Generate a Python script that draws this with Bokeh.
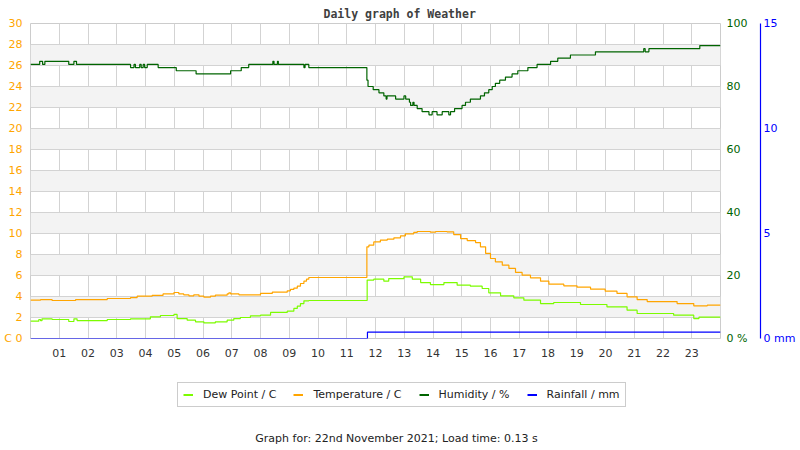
from bokeh.plotting import figure
from bokeh.layouts import column
from bokeh.models import (Range1d, LinearAxis, FixedTicker, Legend, LegendItem, Label)
from bokeh.embed import file_html
from bokeh.resources import INLINE

# ---------------- data ----------------
hour_ticks = list(range(1, 24))
hour_labels = ["01", "02", "03", "04", "05", "06", "07", "08", "09", "10", "11", "12",
               "13", "14", "15", "16", "17", "18", "19", "20", "21", "22", "23"]
temp_ticks = list(range(0, 31, 2))
hum_ticks = [0, 20, 40, 60, 80, 100]
rain_ticks = [0, 5, 10, 15]

hum_t = [0.0, 0.32, 0.42, 0.50, 1.33, 1.51, 1.60, 3.48, 3.60, 3.65, 3.80, 3.85, 3.92, 3.97,
         4.06, 4.44, 5.07, 5.76, 6.96, 7.33, 7.59, 8.43, 8.47, 8.59, 8.62, 9.51, 9.55, 9.68,
         11.70, 11.74, 11.92, 12.12, 12.29, 12.37, 12.40, 12.70, 12.99, 13.05, 13.18, 13.22,
         13.30, 13.34, 13.45, 13.62, 13.86, 13.97, 14.14, 14.32, 14.55, 14.61, 14.75, 15.01,
         15.13, 15.30, 15.65, 15.79, 15.94, 16.06, 16.17, 16.32, 16.52, 16.75, 16.95, 17.30,
         17.62, 18.09, 18.34, 18.78, 19.65, 21.33, 21.38, 21.51, 23.28, 24.0]
hum_v = [87, 88, 87, 88, 87, 88, 87, 86, 87, 86, 87, 86, 87, 86,
         87, 86, 85, 84, 85, 86, 87, 88, 87, 88, 87, 86, 87, 86,
         82, 80, 79, 78, 77, 76, 77, 76, 77, 76, 75, 74,
         75, 74, 73, 72, 71, 72, 71, 72, 71, 72, 73, 74,
         75, 76, 77, 78, 79, 80, 81, 82, 83, 84, 85, 86,
         87, 88, 89, 90, 91, 92, 91, 92, 93, 93]

temp_t = [0.0, 0.35, 0.75, 1.57, 2.67, 3.48, 3.71, 4.23, 4.61, 4.99, 5.16, 5.33, 5.51, 5.68,
          5.86, 6.03, 6.26, 6.43, 6.84, 6.90, 6.96, 7.25, 8.00, 8.41, 8.93, 9.04, 9.16, 9.28,
          9.39, 9.51, 9.60, 9.68, 11.70, 11.77, 11.94, 12.17, 12.41, 12.64, 12.87, 13.04,
          13.33, 13.45, 13.91, 14.09, 14.49, 14.72, 14.96, 15.19, 15.48, 15.65, 15.83, 16.00,
          16.17, 16.41, 16.64, 16.87, 17.10, 17.39, 17.74, 18.03, 18.55, 19.01, 19.48, 19.99,
          20.40, 20.75, 21.10, 21.45, 22.49, 23.07, 23.54, 24.0]
temp_v = [3.65, 3.71, 3.62, 3.71, 3.81, 3.90, 4.03, 4.10, 4.25, 4.38, 4.25, 4.16, 4.06, 4.16,
          4.03, 3.94, 4.03, 4.13, 4.25, 4.35, 4.25, 4.16, 4.29, 4.41, 4.54, 4.67, 4.79, 4.98,
          5.24, 5.46, 5.65, 5.81, 8.73, 8.89, 9.20, 9.37, 9.46, 9.59, 9.78, 9.97,
          10.10, 10.19, 10.13, 10.19, 10.16, 9.90, 9.52, 9.33, 9.14, 8.73, 8.10, 7.62,
          7.30, 6.98, 6.67, 6.29, 6.03, 5.78, 5.46, 5.17, 5.02, 4.89, 4.70, 4.51,
          4.29, 3.97, 3.71, 3.52, 3.33, 3.11, 3.17, 3.17]

dew_t = [0.0, 0.29, 0.35, 0.40, 0.75, 1.33, 1.51, 1.62, 2.67, 3.48, 4.17, 4.52, 4.99, 5.10,
         5.45, 5.74, 6.03, 6.43, 6.84, 7.07, 7.30, 7.65, 8.00, 8.35, 8.93, 9.16, 9.28, 9.39,
         9.51, 9.68, 11.71, 11.94, 12.29, 12.46, 12.99, 13.28, 13.57, 13.91, 14.38, 14.84,
         15.30, 15.71, 15.94, 16.35, 16.81, 17.16, 17.74, 18.20, 19.13, 20.05, 20.75, 21.10,
         22.37, 23.07, 23.25, 24.0]
dew_v = [1.65, 1.81, 1.70, 1.87, 1.81, 1.62, 1.87, 1.71, 1.81, 1.87, 2.06, 2.19, 2.29, 1.90,
         1.75, 1.59, 1.49, 1.59, 1.75, 1.90, 2.00, 2.16, 2.22, 2.48, 2.60, 2.86, 3.08, 3.33,
         3.59, 3.62, 5.56, 5.65, 5.46, 5.71, 5.87, 5.65, 5.33, 5.14, 5.33, 5.08,
         4.98, 4.76, 4.35, 4.06, 3.87, 3.65, 3.33, 3.43, 3.24, 3.02, 2.70, 2.38,
         2.22, 1.90, 2.03, 2.03]

rain_t = [0.0, 11.72, 24.0]
rain_v = [0.0, 0.3, 0.3]

series_names = ["Dew Point / C", "Temperature / C", "Humidity / %", "Rainfall / mm"]
footer_text = "Graph for: 22nd November 2021; Load time: 0.13 s"

C_DEW = "#7CFC00"
C_TEMP = "#FFA500"
C_HUM = "#006400"
C_RAIN = "#0000FF"
FONT = "DejaVu Sans"

# ---------------- main figure ----------------
p = figure(width=800, height=370, output_backend="svg", toolbar_location=None,
           x_range=Range1d(0, 24), y_range=Range1d(0, 30),
           min_border_left=30, min_border_right=80, min_border_top=23, min_border_bottom=32,
           background_fill_color="white", border_fill_color="white")
p.extra_y_ranges = {"hum": Range1d(0, 100), "rain": Range1d(0, 15)}
p.outline_line_color = "#cccccc"

p.title.text = "Daily graph of Weather"
p.title.align = "left"
p.title.offset = 293
p.title.standoff = 6
p.title.text_font = "DejaVu Sans Mono"
p.title.text_font_style = "bold"
p.title.text_font_size = "11.5px"
p.title.text_color = "#404040"

p.xgrid.ticker = FixedTicker(ticks=hour_ticks)
p.ygrid.ticker = FixedTicker(ticks=temp_ticks)
p.grid.grid_line_color = "#d3d3d3"
p.grid.grid_line_width = 1
p.ygrid.band_fill_color = "#f3f3f3"
p.ygrid.band_fill_alpha = 1.0

xa = p.xaxis[0]
xa.ticker = FixedTicker(ticks=hour_ticks)
xa.major_label_overrides = {t: l for t, l in zip(hour_ticks, hour_labels)}
xa.axis_line_color = None
xa.major_tick_line_color = None
xa.minor_tick_line_color = None
xa.major_tick_out = 0
xa.major_tick_in = 0
xa.major_label_standoff = 10
xa.major_label_text_color = "#333333"
xa.major_label_text_font = FONT
xa.major_label_text_font_size = "11px"

ya = p.yaxis[0]
ya.ticker = FixedTicker(ticks=temp_ticks)
ya.major_label_overrides = {0: "C 0"}
ya.axis_line_color = None
ya.major_tick_line_color = None
ya.minor_tick_line_color = None
ya.major_tick_out = 0
ya.major_tick_in = 0
ya.major_label_standoff = 8
ya.major_label_text_color = C_TEMP
ya.major_label_text_font = FONT
ya.major_label_text_font_size = "11px"

hax = LinearAxis(y_range_name="hum", ticker=FixedTicker(ticks=hum_ticks),
                 major_label_overrides={0: "0 %"},
                 axis_line_color=None, major_tick_line_color=None, minor_tick_line_color=None,
                 major_tick_out=0, major_tick_in=0, major_label_standoff=6,
                 major_label_text_color=C_HUM, major_label_text_font=FONT,
                 major_label_text_font_size="11px",
                 axis_label=" ", axis_label_standoff=0, axis_label_text_font_size="7px")
p.add_layout(hax, "right")

rax = LinearAxis(y_range_name="rain", ticker=FixedTicker(ticks=rain_ticks),
                 major_label_overrides={0: "0 mm"},
                 axis_line_color=C_RAIN, axis_line_width=1.2,
                 major_tick_line_color=None, minor_tick_line_color=None,
                 major_tick_out=0, major_tick_in=0, major_label_standoff=3,
                 major_label_text_color=C_RAIN, major_label_text_font=FONT,
                 major_label_text_font_size="11px")
p.add_layout(rax, "right")

p.step(rain_t, rain_v, mode="after", line_color=C_RAIN, line_width=1.2, y_range_name="rain")
p.step(hum_t, hum_v, mode="after", line_color=C_HUM, line_width=1.2, y_range_name="hum")
p.step(temp_t, temp_v, mode="after", line_color=C_TEMP, line_width=1.2)
p.step(dew_t, dew_v, mode="after", line_color=C_DEW, line_width=1.2)

# ---------------- legend / footer strip ----------------
# frame of this strip is aligned with the main frame (x 30..720), so map it to canvas px
q = figure(width=800, height=80, output_backend="svg", toolbar_location=None,
           x_range=Range1d(30, 720), y_range=Range1d(80, 0),
           x_axis_type=None, y_axis_type=None,
           min_border_left=0, min_border_right=0, min_border_top=0, min_border_bottom=0,
           background_fill_color="white", border_fill_color="white")
q.outline_line_color = None
q.grid.visible = False

colors = [C_DEW, C_TEMP, C_HUM, C_RAIN]
nan = float("nan")
items = []
for name, c in zip(series_names, colors):
    proxy = q.line([nan], [nan], line_color=c, line_width=2)   # legend swatch only
    items.append(LegendItem(label=name, renderers=[proxy]))

legend = Legend(items=items, orientation="horizontal", location=(147, 43),
                border_line_color="#999999", border_line_width=1,
                background_fill_color="white", background_fill_alpha=1,
                label_text_font=FONT, label_text_font_size="11px", label_text_color="#222222",
                glyph_width=10, glyph_height=13, label_height=13, label_standoff=10,
                spacing=17, padding=5, margin=0)
q.add_layout(legend, "center")

q.add_layout(Label(x=396, y=68, text=footer_text, text_align="center",
                   text_baseline="middle", text_font=FONT, text_font_size="11px",
                   text_color="#222222"))

layout = column(p, q, spacing=0)
open("out.html", "w").write(file_html(layout, INLINE))
